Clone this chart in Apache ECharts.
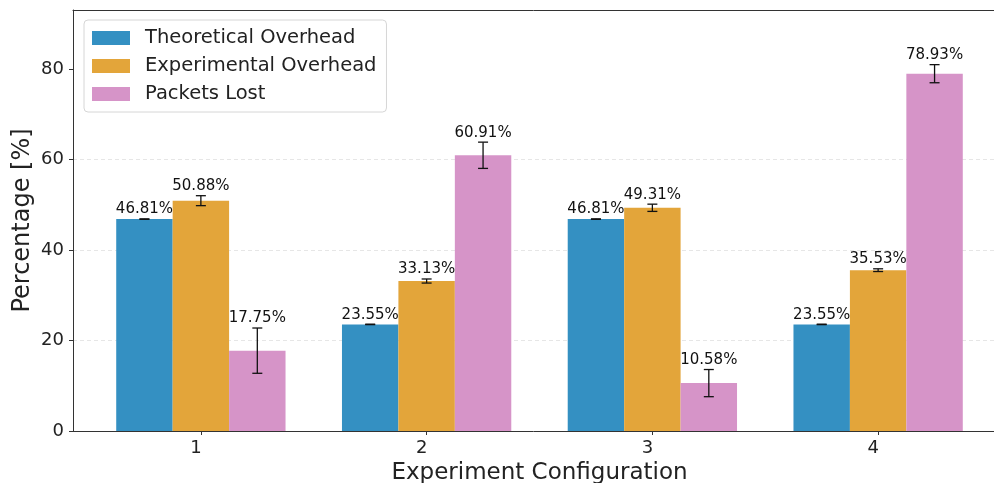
<!DOCTYPE html>
<html>
<head>
<meta charset="utf-8">
<script src="https://cdn.jsdelivr.net/npm/echarts@6/dist/echarts.min.js"></script>
<style>
  html, body { margin: 0; padding: 0; background: #fff; }
  #chart { width: 994px; height: 483px; }
</style>
</head>
<body>
<div id="chart"></div>
<script>
// Experiment configurations on the x axis
const categories = ['1', '2', '3', '4'];

// Mean values (%) per configuration
const theoretical = [46.81, 23.55, 46.81, 23.55];
const experimental = [50.88, 33.13, 49.31, 35.53];
const packetsLost = [17.75, 60.91, 10.58, 78.93];

// Standard deviations used for the error bars
const theoreticalErr = [0.05, 0.05, 0.05, 0.05];
const experimentalErr = [1.1, 0.45, 0.8, 0.3];
const packetsLostErr = [5.0, 2.9, 3.0, 2.0];

// Y axis tick values
const yTicks = [0, 20, 40, 60, 80];

const seriesNames = ['Theoretical Overhead', 'Experimental Overhead', 'Packets Lost'];
const colors = ['#3490c2', '#e3a53a', '#d694c8'];
const yMax = 93;

const FONT = 'DejaVu Sans';
const values = [theoretical, experimental, packetsLost];
const errors = [theoreticalErr, experimentalErr, packetsLostErr];
const BAR_FRACTION = 0.25;

function errorSeries(k) {
  return {
    type: 'custom',
    xAxisIndex: 2,
    yAxisIndex: 1,
    z: 10,
    silent: true,
    data: values[k].map((v, i) => [i, v, errors[k][i]]),
    renderItem: function (params, api) {
      const idx = api.value(0);
      const v = api.value(1);
      const e = api.value(2);
      const band = api.size([1, 0])[0];
      const x = api.coord([idx, 0])[0] + (k - 1) * band * BAR_FRACTION;
      const yTop = api.coord([idx, v + e])[1];
      const yBot = api.coord([idx, v - e])[1];
      const cap = 5;
      const style = { stroke: '#111', lineWidth: 1.3 };
      return {
        type: 'group',
        children: [
          { type: 'line', shape: { x1: x, y1: yTop, x2: x, y2: yBot }, style: style },
          { type: 'line', shape: { x1: x - cap, y1: yTop, x2: x + cap, y2: yTop }, style: style },
          { type: 'line', shape: { x1: x - cap, y1: yBot, x2: x + cap, y2: yBot }, style: style },
          {
            type: 'text',
            style: {
              text: v.toFixed(2) + '%',
              x: x,
              y: yTop - 2,
              align: 'center',
              verticalAlign: 'bottom',
              fill: '#111',
              font: '15px "' + FONT + '"'
            }
          }
        ]
      };
    }
  };
}

const chart = echarts.init(document.getElementById('chart'), null, { renderer: 'canvas' });

const frameLine = { show: true, lineStyle: { color: '#333', width: 1 } };

const option = {
  backgroundColor: '#fff',
  animation: false,
  textStyle: { fontFamily: FONT },
  grid: [
    // frame, y axis and grid lines
    { left: 73, right: 0, top: 10, bottom: 52, outerBoundsMode: 'none' },
    // bar area
    { left: 88, right: 3, top: 10, bottom: 52, outerBoundsMode: 'none' }
  ],
  legend: {
    orient: 'vertical',
    left: 84,
    top: 20,
    data: seriesNames,
    icon: 'rect',
    itemWidth: 38,
    itemHeight: 14,
    itemGap: 8,
    padding: [8, 10, 8, 8],
    backgroundColor: '#fff',
    borderColor: '#d6d6d6',
    borderWidth: 1,
    borderRadius: 4,
    textStyle: { fontFamily: FONT, fontSize: 19.5, color: '#222', padding: [0, 0, 0, 10] }
  },
  xAxis: [
    {
      // bottom spine
      type: 'value', gridIndex: 0, min: 0, max: 1, position: 'bottom',
      axisLine: frameLine, axisTick: { show: false }, axisLabel: { show: false }, splitLine: { show: false }
    },
    {
      // top spine
      type: 'value', gridIndex: 0, min: 0, max: 1, position: 'top',
      axisLine: frameLine, axisTick: { show: false }, axisLabel: { show: false }, splitLine: { show: false }
    },
    {
      type: 'category', gridIndex: 1, data: categories,
      boundaryGap: true,
      axisLine: { show: false },
      axisTick: { show: true, alignWithLabel: true, length: 4, lineStyle: { color: '#333' } },
      axisLabel: { fontFamily: FONT, fontSize: 18, color: '#222', margin: 8, padding: [0, 10, 0, 0] },
      name: 'Experiment Configuration',
      nameLocation: 'middle',
      nameGap: 28,
      nameTextStyle: { fontFamily: FONT, fontSize: 23, color: '#222', verticalAlign: 'top' }
    }
  ],
  yAxis: [
    {
      type: 'value', gridIndex: 0, min: 0, max: yMax,
      axisLine: frameLine,
      axisTick: { show: true, length: 4, lineStyle: { color: '#333' }, customValues: yTicks },
      axisLabel: {
        fontFamily: FONT, fontSize: 18, color: '#222', margin: 9,
        customValues: yTicks
      },
      splitLine: {
        show: true, showMinLine: false, showMaxLine: false,
        lineStyle: { color: '#e6e6e6', type: [4, 3], width: 1 }
      },
      interval: 20,
      name: 'Percentage [%]',
      nameLocation: 'middle',
      nameGap: 38,
      nameMoveOverlap: false,
      nameTextStyle: { fontFamily: FONT, fontSize: 24, color: '#222' }
    },
    {
      type: 'value', gridIndex: 1, min: 0, max: yMax,
      show: false, splitLine: { show: false }
    }
  ],
  series: [
    ...values.map((vals, k) => ({
      name: seriesNames[k],
      type: 'bar',
      xAxisIndex: 2,
      yAxisIndex: 1,
      data: vals,
      barWidth: '25%',
      barGap: '0%',
      itemStyle: { color: colors[k] }
    })),
    errorSeries(0),
    errorSeries(1),
    errorSeries(2)
  ]
};

chart.setOption(option);
</script>
</body>
</html>
